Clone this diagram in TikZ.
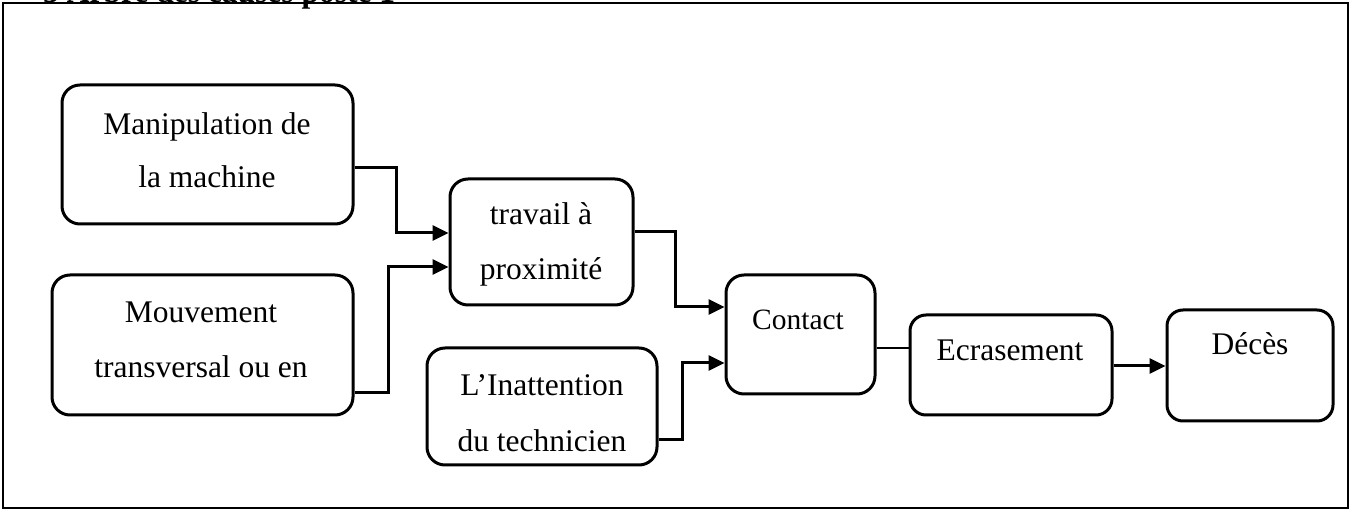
\documentclass[tikz,border=0pt]{standalone}
\usepackage{fontspec}
\setmainfont{Liberation Serif}
\usetikzlibrary{arrows.meta}
\begin{document}
\begin{tikzpicture}[x=1pt,y=-1pt,
  box/.style={draw, line width=3pt, rounded corners=18pt, inner sep=0pt},
  lbl/.style={anchor=base, inner sep=0pt, font=\fontsize{31.5}{38}\selectfont},
  link/.style={line width=3pt},
  arr/.style={link, -{Triangle[length=16pt,width=15pt]}},
  thin link/.style={line width=1.2pt},
]
\useasboundingbox (0,0) rectangle (1350,510);
\clip (0,0) rectangle (1350,510);

% frame and heading
\draw[line width=2pt] (3,3) rectangle (1348,508);
\node[anchor=base west, inner sep=0pt, font=\bfseries\fontsize{31.5}{38}\selectfont] (title) at (43,3) {3 Arbre des causes poste 1};

% boxes
\node[box, minimum width=291pt, minimum height=139pt] (manip) at (207.5,154.5) {};
\node[box, minimum width=301pt, minimum height=140pt] (mouv)  at (202.5,345) {};
\node[box, minimum width=183pt, minimum height=126pt] (trav)  at (541.5,242) {};
\node[box, minimum width=149pt, minimum height=119pt] (cont)  at (800.5,334.5) {};
\node[box, minimum width=230pt, minimum height=117pt] (inat)  at (542,406.5) {};
\node[box, minimum width=202pt, minimum height=100pt, rounded corners=16pt] (ecr) at (1011,365) {};
\node[box, minimum width=166pt, minimum height=111pt, rounded corners=16pt] (deces) at (1250,365.5) {};

% labels
\node[lbl] (manipA) at (207,135) {Manipulation de};
\node[lbl] (manipB) at (207,188) {la machine};
\node[lbl] (mouvA) at (201,323) {Mouvement};
\node[lbl] (mouvB) at (201,378) {transversal ou en};
\node[lbl] (travA) at (541,225) {travail à};
\node[lbl] (travB) at (541,280) {proximité};
\node[lbl, font=\fontsize{29.5}{36}\selectfont] (contA) at (798,330) {Contact};
\node[lbl] (inatA) at (542,396) {L’Inattention};
\node[lbl] (inatB) at (542,452) {du technicien};
\node[lbl] (ecrA) at (1010,361) {Ecrasement};
\node[lbl] (decesA) at (1250,355) {Décès};

% connectors
\draw[arr] (manip.east |- 0,168) -- (396,168) -- (396,233) -- (trav.west |- 0,233);
\draw[arr] (mouv.east |- 0,393) -- (388,393) -- (388,267) -- (trav.west |- 0,267);
\draw[arr] (trav.east |- 0,232) -- (675,232) -- (675,307) -- (cont.west |- 0,307);
\draw[arr] (inat.east |- 0,440) -- (682,440) -- (682,363) -- (cont.west |- 0,363);
\draw[thin link] (cont.east |- 0,348) -- (ecr.west |- 0,348);
\draw[arr] (ecr.east |- 0,366) -- (deces.west |- 0,366);
\end{tikzpicture}
\end{document}
